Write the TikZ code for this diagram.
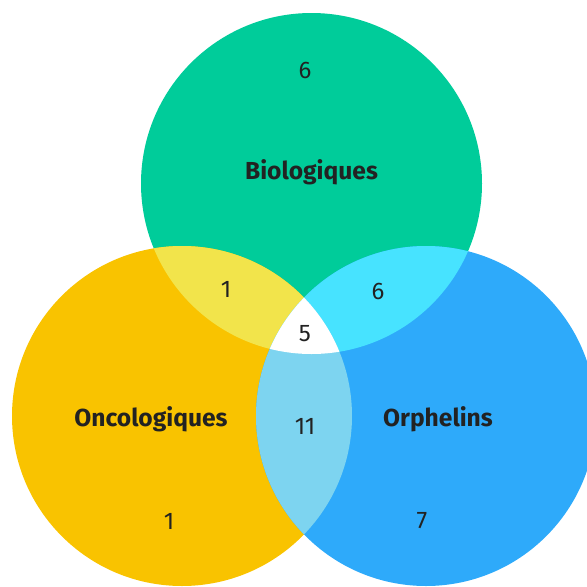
\documentclass[tikz,border=0pt]{standalone}
\usepackage{fontspec}
\setmainfont{Fira Sans}
\usetikzlibrary{positioning}
\definecolor{bioGreen}{HTML}{00CC9A}
\definecolor{oncoYellow}{HTML}{F9C300}
\definecolor{orphBlue}{HTML}{2EAAFA}
\definecolor{bioOnco}{HTML}{F2E44B}
\definecolor{bioOrph}{HTML}{47E3FF}
\definecolor{oncoOrph}{HTML}{7DD4F0}
\definecolor{inkGray}{HTML}{222222}

\begin{document}
\begin{tikzpicture}[x=1pt,y=-1pt,
 setname/.style={font=\fontsize{24.6}{28}\selectfont\bfseries,text=inkGray},
 count/.style={font=\fontsize{24}{28}\selectfont,text=inkGray}]
\useasboundingbox (0,0) rectangle (587,587);
\def\bio{(311.5,183.5) circle (170.5pt)}
\def\onco{(182,416) circle (170pt)}
\def\orph{(426,416) circle (170pt)}
% the three sets
\fill[bioGreen] \bio;
\fill[oncoYellow] \onco;
\fill[orphBlue] \orph;
% overlaps
\begin{scope}
 \clip \bio;
 \fill[bioOnco] \onco;
 \fill[bioOrph] \orph;
\end{scope}
\begin{scope}
 \clip \onco;
 \fill[oncoOrph] \orph;
 \clip \orph;
 \fill[white] \bio;
\end{scope}
% labels
\node[setname] (bioName) at (311.5,172) {Biologiques};
\node[setname] (oncoName) at (151,419) {Oncologiques};
\node[setname] (orphName) at (438,419) {Orphelins};
\node[count] (bioOnly) at (305,70) {6};
\node[count] (oncoOnly) at (169,521) {1};
\node[count] (orphOnly) at (422,521) {7};
\node[count] (bioOncoN) at (226,289) {1};
\node[count] (bioOrphN) at (378,291) {6};
\node[count] (oncoOrphN) at (305,426) {11};
\node[count] (allThree) at (305,334) {5};
\end{tikzpicture}
\end{document}
